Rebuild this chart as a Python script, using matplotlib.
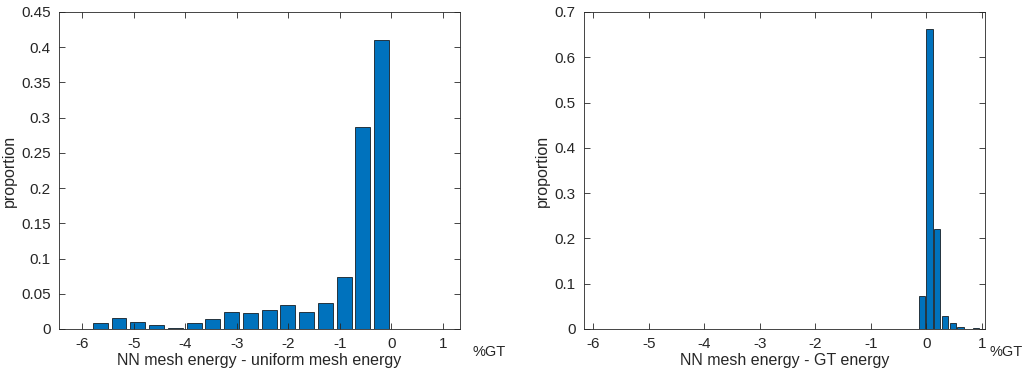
import matplotlib.pyplot as plt

plt.rcParams["font.family"] = ["Liberation Sans", "DejaVu Sans"]
plt.rcParams["axes.unicode_minus"] = False

# histogram of NN mesh energy - uniform mesh energy (%GT)
left_centers = [-5.65, -5.286, -4.922, -4.558, -4.194, -3.83, -3.466, -3.102,
                -2.738, -2.374, -2.01, -1.646, -1.282, -0.918, -0.554, -0.19]
left_props = [0.0085, 0.0156, 0.0104, 0.0057, 0.0014, 0.0085, 0.0147, 0.0241,
              0.0222, 0.0265, 0.034, 0.024, 0.0364, 0.0742, 0.2865, 0.4105]

# histogram of NN mesh energy - GT energy (%GT)
right_centers = [-0.08, 0.06, 0.20, 0.34, 0.48, 0.62, 0.76, 0.90]
right_props = [0.0718, 0.6635, 0.2207, 0.0279, 0.0132, 0.0044, 0.0, 0.0018]

x_ticks = [-6, -5, -4, -3, -2, -1, 0, 1]
left_yticks = [0, 0.05, 0.1, 0.15, 0.2, 0.25, 0.3, 0.35, 0.4, 0.45]
right_yticks = [0, 0.1, 0.2, 0.3, 0.4, 0.5, 0.6, 0.7]

bar_color = "#0072BD"
text_color = "#262626"

fig = plt.figure(figsize=(10.23, 3.75), dpi=100)
ax1 = fig.add_axes([59 / 1023, 46 / 375, 401 / 1023, 317 / 375])
ax2 = fig.add_axes([584 / 1023, 46 / 375, 401 / 1023, 317 / 375])


def style_axis(ax, yticks, xlim, xlabel, unit_x):
    ax.set_xlim(*xlim)
    ax.set_ylim(yticks[0], yticks[-1])
    ax.set_xticks(x_ticks)
    ax.set_xticklabels(["%g" % t for t in x_ticks])
    ax.set_yticks(yticks)
    ax.set_yticklabels(["%g" % t for t in yticks])
    ax.tick_params(direction="in", top=True, right=True, length=4, width=0.6,
                   colors=text_color, labelsize=11, pad=6)
    for s in ax.spines.values():
        s.set_color(text_color)
        s.set_linewidth(0.6)
    ax.set_xlabel(xlabel, fontsize=11.5, color=text_color, labelpad=1)
    ax.set_ylabel("proportion", fontsize=11.5, color=text_color, labelpad=3)
    # unit label to the right of the x-axis
    ax.text(unit_x, -0.072, "%GT", transform=ax.transAxes, fontsize=10.5,
            color=text_color, ha="left", va="center")


ax1.bar(left_centers, left_props, width=0.29, color=bar_color,
        edgecolor="black", linewidth=0.5)
style_axis(ax1, left_yticks, (-6.45, 1.33),
           "NN mesh energy - uniform mesh energy", 1.03)

ax2.bar(right_centers, right_props, width=0.112, color=bar_color,
        edgecolor="black", linewidth=0.5)
style_axis(ax2, right_yticks, (-6.17, 1.06), "NN mesh energy - GT energy",
           1.012)

fig.savefig("out.png", dpi=100)
